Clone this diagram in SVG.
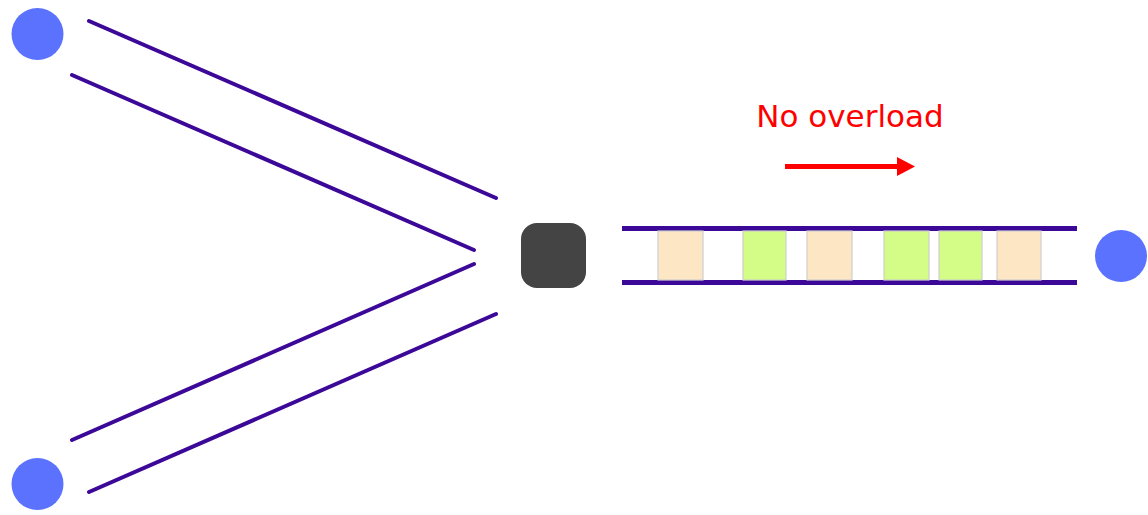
<svg xmlns="http://www.w3.org/2000/svg" width="1148" height="515" viewBox="0 0 1148 515">
<style>
.host{fill:#5a72fe}
.link{stroke:#3c0898;stroke-width:4;stroke-linecap:round;fill:none}
.rail{stroke:#3c0898;stroke-width:5;fill:none}
.pkt{stroke:#cfcfcf;stroke-width:1.2}
.a{fill:#fde6c4}
.b{fill:#d3fd86}
.lbl{font-family:"DejaVu Sans",Verdana,sans-serif;font-size:31px;fill:#ff0000}
</style>
<rect width="1148" height="515" fill="#ffffff"/>
<g id="connectors">
<line class="link" x1="89" y1="21" x2="496" y2="198"/>
<line class="link" x1="72" y1="75" x2="474" y2="250"/>
<line class="link" x1="72" y1="440" x2="474" y2="264"/>
<line class="link" x1="89" y1="492" x2="496" y2="314"/>
<line class="rail" x1="622" y1="228.5" x2="1077" y2="228.5"/>
<line class="rail" x1="622" y1="282.5" x2="1077" y2="282.5" stroke-width="6"/>
</g>
<g id="host1"><circle class="host" cx="37.5" cy="34" r="26"/></g>
<g id="host2"><circle class="host" cx="37.5" cy="484" r="26"/></g>
<g id="host3"><circle class="host" cx="1121" cy="256" r="26"/></g>
<g id="switch"><rect x="521" y="223" width="65" height="65" rx="16" fill="#444444"/></g>
<g id="packets">
<rect class="pkt a" x="658" y="231" width="45" height="49"/>
<rect class="pkt b" x="743" y="231" width="43" height="49"/>
<rect class="pkt a" x="807" y="231" width="45" height="49"/>
<rect class="pkt b" x="884" y="231" width="45" height="49"/>
<rect class="pkt b" x="939" y="231" width="43" height="49"/>
<rect class="pkt a" x="997" y="231" width="44" height="49"/>
</g>
<g id="label">
<text class="lbl" x="850" y="127" text-anchor="middle">No overload</text>
<line x1="785" y1="166.5" x2="899" y2="166.5" stroke="#ff0000" stroke-width="5"/>
<polygon points="897,157 915,166.5 897,176" fill="#ff0000"/>
</g>
</svg>
